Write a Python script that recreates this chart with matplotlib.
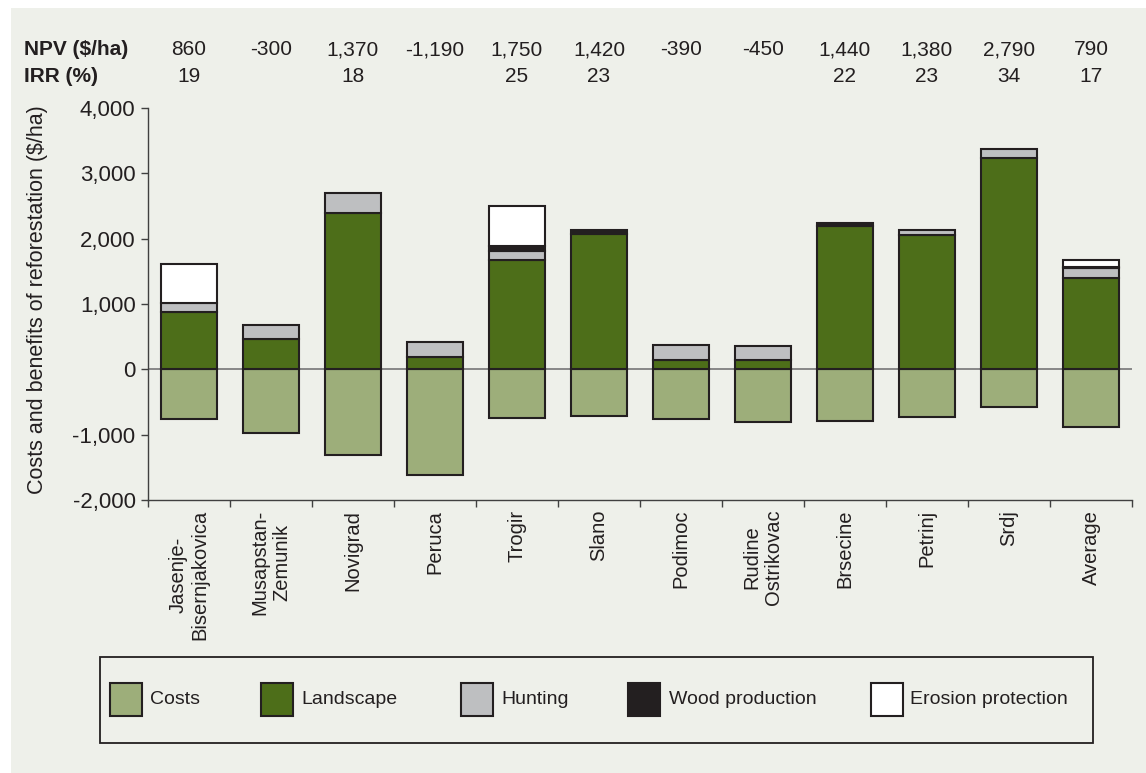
import matplotlib
matplotlib.use("Agg")
import matplotlib.pyplot as plt
import numpy as np
from matplotlib.patches import Rectangle
from matplotlib.transforms import blended_transform_factory
from matplotlib.ticker import FuncFormatter

plt.rcParams['font.family'] = ['Liberation Sans', 'DejaVu Sans']

categories = ["Jasenje-\nBisernjakovica", "Musapstan-\nZemunik", "Novigrad", "Peruca",
              "Trogir", "Slano", "Podimoc", "Rudine\nOstrikovac", "Brsecine",
              "Petrinj", "Srdj", "Average"]
costs = [-755, -975, -1316, -1622, -740, -719, -760, -811, -791, -730, -577, -883]
landscape = [877, 470, 2388, 188, 1668, 2077, 138, 148, 2194, 2061, 3234, 1398]
hunting = [144, 214, 306, 230, 138, 0, 240, 214, 0, 67, 144, 154]
wood = [0, 0, 0, 0, 77, 60, 0, 0, 50, 0, 0, 17]
erosion = [597, 0, 0, 0, 617, 0, 0, 0, 0, 0, 0, 111]
npv = [860, -300, 1370, -1190, 1750, 1420, -390, -450, 1440, 1380, 2790, 790]
irr = [19, None, 18, None, 25, 23, None, None, 22, 23, 34, 17]

series_names = ["Costs", "Landscape", "Hunting", "Wood production", "Erosion protection"]
series_colors = ["#9DAE7A", "#4D6E19", "#BEBFC1", "#231F20", "#FFFFFF"]

W, H = 1146, 773
fig = plt.figure(figsize=(W / 100, H / 100), dpi=100)
fig.patch.set_facecolor("white")
BG = "#EEF0EA"
fig.add_artist(Rectangle((11 / W, 0), 1 - 11 / W, 1 - 8 / H, transform=fig.transFigure,
                         facecolor=BG, edgecolor="none", zorder=0))

ax = fig.add_axes([148 / W, 1 - 500 / H, (1132 - 148) / W, (500 - 108) / H])
ax.set_facecolor("none")

n = len(categories)
xc = np.arange(n) + 0.5
bw = 0.68
EC = "#231F20"
LW = 1.5

ax.axhline(0, color="#808080", lw=1.3, zorder=1)

# costs (negative)
ax.bar(xc, costs, bw, color=series_colors[0], edgecolor=EC, linewidth=LW, zorder=2)
bottom = np.zeros(n)
for vals, col in zip([landscape, hunting, wood, erosion], series_colors[1:]):
    vals = np.array(vals, dtype=float)
    m = vals > 0
    ax.bar(xc[m], vals[m], bw, bottom=bottom[m], color=col, edgecolor=EC,
           linewidth=LW, zorder=2)
    bottom += vals

ax.set_xlim(0, n)
ax.set_ylim(-2000, 4000)
ax.set_yticks(np.arange(-2000, 4001, 1000))
ax.yaxis.set_major_formatter(FuncFormatter(lambda v, p: f"{int(v):,}"))
ax.set_xticks(np.arange(0, n + 1))
ax.set_xticklabels([])
ax.set_xticks(xc, minor=True)
ax.set_xticklabels(categories, minor=True, rotation=90, va="top", ha="center",
                   multialignment="center", fontsize=14.5, color=EC)
ax.tick_params(axis="x", which="minor", length=0, pad=7)
ax.tick_params(axis="x", which="major", direction="out", length=5, color="#404040", width=1)
ax.tick_params(axis="y", direction="out", length=5, color="#404040", width=1,
               labelsize=16, labelcolor=EC, pad=4)
for s in ["top", "right"]:
    ax.spines[s].set_visible(False)
for s in ["left", "bottom"]:
    ax.spines[s].set_color("#404040")
    ax.spines[s].set_linewidth(1.0)

ax.set_ylabel("Costs and benefits of reforestation ($/ha)", fontsize=15.5, color=EC)
ax.yaxis.set_label_coords(-(148 - 48) / (1132 - 148), 0.51)

# NPV / IRR rows
tr = blended_transform_factory(ax.transData, fig.transFigure)
y_npv = 1 - 55 / H
y_irr = 1 - 82 / H
fig.text(24 / W, y_npv, "NPV ($/ha)", fontsize=15, fontweight="bold", va="baseline", ha="left", color=EC)
fig.text(24 / W, y_irr, "IRR (%)", fontsize=15, fontweight="bold", va="baseline", ha="left", color=EC)
for x, v, r in zip(xc, npv, irr):
    ax.text(x, y_npv, f"{v:,}", transform=tr, ha="center", va="baseline", fontsize=15, color=EC)
    if r is not None:
        ax.text(x, y_irr, f"{r}", transform=tr, ha="center", va="baseline", fontsize=15, color=EC)

# Legend box
fig.add_artist(Rectangle((100 / W, 1 - 743 / H), (1093 - 100) / W, (743 - 657) / H,
                         transform=fig.transFigure, facecolor="none", edgecolor=EC, lw=1.3))
patch_x = [110, 261, 461, 628, 871]
text_x = [150, 301, 501, 669, 910]
for px, tx, name, col in zip(patch_x, text_x, series_names, series_colors):
    fig.add_artist(Rectangle((px / W, 1 - 716 / H), 32 / W, 33 / H, transform=fig.transFigure,
                             facecolor=col, edgecolor=EC, lw=1.5))
    fig.text(tx / W, 1 - 700 / H, name, fontsize=14, va="center", ha="left", color=EC)

fig.savefig("out.png", dpi=100, facecolor=fig.get_facecolor())
